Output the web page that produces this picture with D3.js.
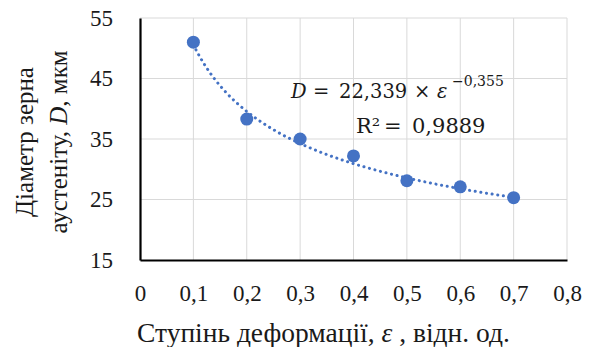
<!DOCTYPE html>
<html>
<head>
<meta charset="utf-8">
<script src="https://cdn.jsdelivr.net/npm/d3@7"></script>
<style>
  body { margin: 0; background: #fff; }
</style>
</head>
<body>
<script>
// --- data ---
var strain = [0.1, 0.2, 0.3, 0.4, 0.5, 0.6, 0.7];
var grain = [51.0, 38.3, 35.0, 32.2, 28.1, 27.1, 25.3];
var xTicks = [0, 0.1, 0.2, 0.3, 0.4, 0.5, 0.6, 0.7, 0.8];
var yTicks = [15, 25, 35, 45, 55];
// power trendline coefficients as printed on the chart
var fitA = 22.339, fitB = -0.355;

var W = 595, H = 347;
var margin = {top: 18, right: 28, bottom: 87, left: 140};
var serif = "Liberation Serif",
    mathFont = "DejaVu Serif",
    inkCol = "#1a1a1a",
    dotCol = "#4472c4",
    gridCol = "#d9d9d9";

var svg = d3.select("body").append("svg")
    .attr("width", W)
    .attr("height", H);

var x = d3.scaleLinear().domain([0, 0.8]).range([margin.left, W - margin.right]);
var y = d3.scaleLinear().domain([15, 55]).range([H - margin.bottom, margin.top]);

var fmt = function(d) { return String(d).replace(".", ","); };

// --- grid ---
var grid = svg.append("g");
grid.selectAll("line.v").data(xTicks.slice(1)).enter().append("line")
    .attr("x1", d => x(d)).attr("x2", d => x(d))
    .attr("y1", y(15)).attr("y2", y(55))
    .attr("stroke", gridCol).attr("stroke-width", 1);
grid.selectAll("line.h").data(yTicks.slice(1)).enter().append("line")
    .attr("x1", x(0)).attr("x2", x(0.8))
    .attr("y1", d => y(d)).attr("y2", d => y(d))
    .attr("stroke", gridCol).attr("stroke-width", 1);

// --- axes (black lines, no ticks) ---
var xAxis = svg.append("g")
    .attr("transform", "translate(0," + y(15) + ")")
    .call(d3.axisBottom(x).tickValues(xTicks).tickFormat(fmt).tickSize(0));
xAxis.select(".domain").attr("stroke", "#000").attr("stroke-width", 2.2);
xAxis.selectAll("text")
    .attr("y", 41).attr("dy", 0)
    .style("font-size", "23px")
    .style("font-family", serif)
    .style("fill", inkCol);

var yAxis = svg.append("g")
    .attr("transform", "translate(" + x(0) + ",0)")
    .call(d3.axisLeft(y).tickValues(yTicks).tickSize(0).tickPadding(27));
yAxis.select(".domain").attr("stroke", "#000").attr("stroke-width", 2.2);
yAxis.selectAll("text")
    .style("font-size", "23px")
    .style("font-family", serif)
    .style("fill", inkCol);

// --- trendline ---
var trend = d3.range(0.1, 0.7001, 0.005).map(e => [e, fitA * Math.pow(e, fitB)]);
svg.append("path")
    .datum(trend)
    .attr("d", d3.line().x(d => x(d[0])).y(d => y(d[1])))
    .attr("fill", "none")
    .attr("stroke", dotCol)
    .attr("stroke-width", 3)
    .attr("stroke-linecap", "round")
    .attr("stroke-dasharray", "0.1 5.6");

// --- points ---
svg.selectAll("circle.pt").data(strain).enter().append("circle")
    .attr("cx", d => x(d))
    .attr("cy", (d, i) => y(grain[i]))
    .attr("r", 6.5)
    .attr("fill", dotCol);

// --- equation label ---
var eq = svg.append("text").attr("y", 98)
    .style("font-family", mathFont).style("font-size", "19.5px").style("fill", inkCol);
eq.append("tspan").attr("x", 291).attr("font-style", "italic").text("D");
eq.append("tspan").attr("x", 313).text("=");
eq.append("tspan").attr("x", 339).text("22,339");
eq.append("tspan").attr("x", 414).text("×");
eq.append("tspan").attr("x", 437).attr("font-style", "italic").text("ε");
eq.append("tspan").attr("x", 452).attr("dy", -12).style("font-size", "14px").text("−0,355");

var r2 = svg.append("text").attr("y", 133)
    .style("font-family", mathFont).style("font-size", "21px").style("fill", inkCol);
r2.append("tspan").attr("x", 356).text("R²");
r2.append("tspan").attr("x", 384).text("=");
r2.append("tspan").attr("x", 412).text("0,9889");

// --- axis titles ---
var xt = svg.append("text")
    .attr("x", 137).attr("y", 342)
    .style("font-family", serif).style("font-size", "27.5px").style("fill", inkCol);
xt.append("tspan").text("Ступінь деформації, ");
xt.append("tspan").attr("font-style", "italic").text("ε");
xt.append("tspan").text(" , відн. од.");

var yt = svg.append("g").attr("transform", "translate(0,142) rotate(-90)");
yt.append("text").attr("x", 0).attr("y", 33)
    .attr("text-anchor", "middle")
    .style("font-family", serif).style("font-size", "25px").style("fill", inkCol)
    .text("Діаметр зерна");
var yt2 = yt.append("text").attr("x", 0).attr("y", 67)
    .attr("text-anchor", "middle")
    .style("font-family", serif).style("font-size", "25px").style("fill", inkCol);
yt2.append("tspan").text("аустеніту, ");
yt2.append("tspan").attr("font-style", "italic").text("D");
yt2.append("tspan").text(", мкм");
</script>
</body>
</html>
